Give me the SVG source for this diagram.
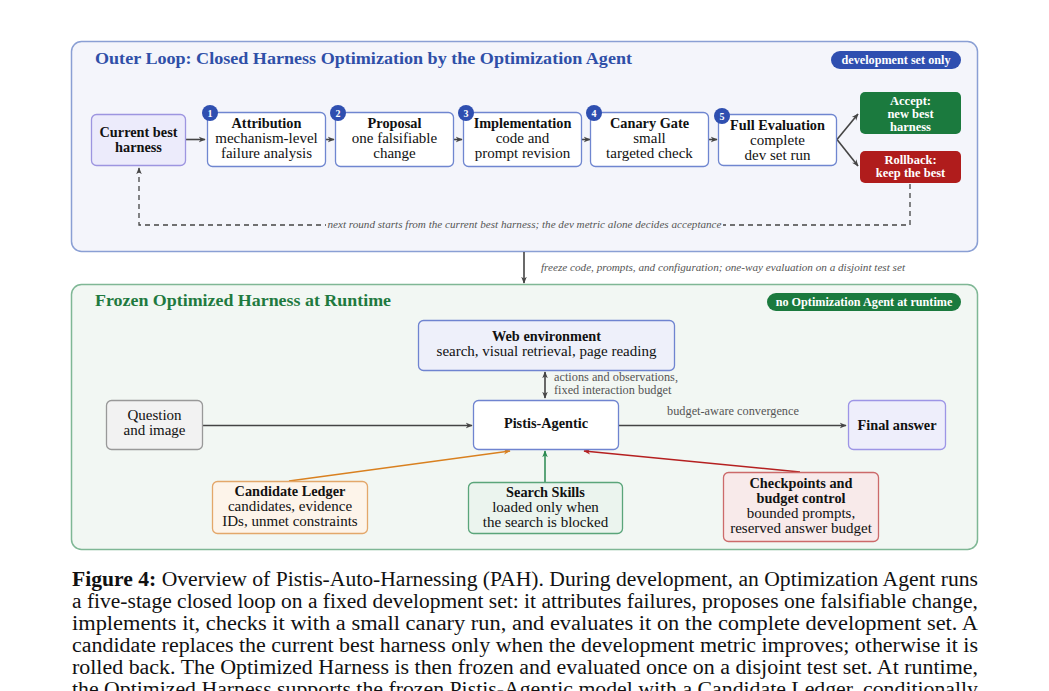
<svg xmlns="http://www.w3.org/2000/svg" width="1049" height="691" viewBox="0 0 1049 691">
<style>
text{font-family:"Liberation Serif","Times New Roman",serif;fill:#111}
.b{font-weight:bold;font-size:14.3px}
.c{text-anchor:middle}
.st{font-size:15px}
.w{fill:#fff;font-weight:bold}
.lab{font-size:12.3px;fill:#555}
.it{font-size:10px;fill:#555;font-style:italic}
.stage{fill:#fff;stroke:#6f86d0;stroke-width:1.3}
.num{fill:#2f4fb0}
.cap{font-size:20.5px}
</style>
<defs>
<marker id="ar" viewBox="0 0 10 10" refX="9" refY="5" markerWidth="7" markerHeight="7" orient="auto-start-reverse" markerUnits="userSpaceOnUse"><path d="M0,1 L10,5 L0,9 L3,5 z" fill="#444"/></marker>
<marker id="aro" viewBox="0 0 10 10" refX="9" refY="5" markerWidth="7" markerHeight="7" orient="auto" markerUnits="userSpaceOnUse"><path d="M0,1 L10,5 L0,9 L3,5 z" fill="#d9801f"/></marker>
<marker id="arg" viewBox="0 0 10 10" refX="9" refY="5" markerWidth="7" markerHeight="7" orient="auto" markerUnits="userSpaceOnUse"><path d="M0,1 L10,5 L0,9 L3,5 z" fill="#2a8a50"/></marker>
<marker id="arr" viewBox="0 0 10 10" refX="9" refY="5" markerWidth="7" markerHeight="7" orient="auto" markerUnits="userSpaceOnUse"><path d="M0,1 L10,5 L0,9 L3,5 z" fill="#b52020"/></marker>
</defs>
<rect width="1049" height="691" fill="#fff"/>

<g id="outer-loop">
<rect x="71.5" y="41.5" width="906" height="210" rx="10" fill="#f4f5fb" stroke="#8a9fd4" stroke-width="1.5"/>
<text x="95" y="64" font-weight="bold" font-size="17" style="fill:#2f4fa8" textLength="537" lengthAdjust="spacingAndGlyphs">Outer Loop: Closed Harness Optimization by the Optimization Agent</text>
<rect x="831" y="51" width="130" height="18" rx="9" fill="#2f4fb0"/>
<text x="896" y="64" class="w c" font-size="12.2">development set only</text>
</g>

<g id="frozen-runtime">
<rect x="71.5" y="284.5" width="906" height="265" rx="10" fill="#f2f7f3" stroke="#7fb795" stroke-width="1.5"/>
<text x="95" y="306" font-weight="bold" font-size="16.5" style="fill:#1f7a3f" textLength="296" lengthAdjust="spacingAndGlyphs">Frozen Optimized Harness at Runtime</text>
<rect x="767" y="293" width="194" height="18" rx="9" fill="#1b7a3e"/>
<text x="864" y="306" class="w c" font-size="12.2">no Optimization Agent at runtime</text>
</g>

<g id="connectors" fill="none" stroke="#444" stroke-width="1.6">
<line x1="186" y1="139.5" x2="205" y2="139.5" marker-end="url(#ar)"/>
<line x1="326" y1="139.5" x2="334" y2="139.5" marker-end="url(#ar)"/>
<line x1="454" y1="139.5" x2="462" y2="139.5" marker-end="url(#ar)"/>
<line x1="582" y1="139.5" x2="590" y2="139.5" marker-end="url(#ar)"/>
<line x1="709" y1="139.5" x2="717" y2="139.5" marker-end="url(#ar)"/>
<line x1="837" y1="139.5" x2="858" y2="114" marker-end="url(#ar)"/>
<line x1="837" y1="139.5" x2="858" y2="166" marker-end="url(#ar)"/>
<path d="M910,184 V225 H139 V168" stroke-dasharray="5,4" stroke-width="1.3" marker-end="url(#ar)"/>
<line x1="524" y1="252" x2="524" y2="283" marker-end="url(#ar)"/>
<line x1="545" y1="372" x2="545" y2="398" marker-start="url(#ar)" marker-end="url(#ar)"/>
<line x1="203" y1="425.5" x2="472" y2="425.5" marker-end="url(#ar)"/>
<line x1="619" y1="425.5" x2="846" y2="425.5" marker-end="url(#ar)"/>
<line x1="289" y1="481" x2="510" y2="451" stroke="#d9801f" stroke-width="1.5" marker-end="url(#aro)"/>
<line x1="545" y1="482" x2="545" y2="451" stroke="#2a8a50" stroke-width="1.5" marker-end="url(#arg)"/>
<line x1="800" y1="472" x2="584" y2="451" stroke="#b52020" stroke-width="1.5" marker-end="url(#arr)"/>
<rect x="326" y="218" width="397" height="13" fill="#f4f5fb" stroke="none"/>
<text x="524.5" y="228" class="it c" style="stroke:none" textLength="394" lengthAdjust="spacingAndGlyphs">next round starts from the current best harness; the dev metric alone decides acceptance</text>
<text x="541" y="271" class="it" style="stroke:none" textLength="364" lengthAdjust="spacingAndGlyphs">freeze code, prompts, and configuration; one-way evaluation on a disjoint test set</text>
<text x="554" y="381" class="lab" style="stroke:none">actions and observations,</text>
<text x="554" y="394" class="lab" style="stroke:none">fixed interaction budget</text>
<text x="733" y="415" class="lab c" style="stroke:none">budget-aware convergence</text>
</g>

<g id="current-best">
<rect x="91.5" y="114.5" width="94" height="51" rx="5" fill="#ecebfb" stroke="#9d95e0" stroke-width="1.3"/>
<text x="138.5" y="137" class="b c">Current best</text>
<text x="138.5" y="152" class="b c">harness</text>
</g>

<g id="stage1">
<rect x="207.5" y="112.5" width="118" height="54" rx="5" class="stage"/>
<text x="266.5" y="128" class="b c">Attribution</text>
<text x="266.5" y="143" class="c st">mechanism-level</text>
<text x="266.5" y="158" class="c st">failure analysis</text>
<circle cx="210" cy="113" r="8" class="num"/>
<text x="210" y="116.5" class="w c" font-size="10">1</text>
</g>

<g id="stage2">
<rect x="335.5" y="112.5" width="118" height="54" rx="5" class="stage"/>
<text x="394.5" y="128" class="b c">Proposal</text>
<text x="394.5" y="143" class="c st">one falsifiable</text>
<text x="394.5" y="158" class="c st">change</text>
<circle cx="338" cy="113" r="8" class="num"/>
<text x="338" y="116.5" class="w c" font-size="10">2</text>
</g>

<g id="stage3">
<rect x="463.5" y="112.5" width="118" height="54" rx="5" class="stage"/>
<text x="522.5" y="128" class="b c">Implementation</text>
<text x="522.5" y="143" class="c st">code and</text>
<text x="522.5" y="158" class="c st">prompt revision</text>
<circle cx="466" cy="113" r="8" class="num"/>
<text x="466" y="116.5" class="w c" font-size="10">3</text>
</g>

<g id="stage4">
<rect x="590.5" y="112.5" width="118" height="54" rx="5" class="stage"/>
<text x="649.5" y="128" class="b c">Canary Gate</text>
<text x="649.5" y="143" class="c st">small</text>
<text x="649.5" y="158" class="c st">targeted check</text>
<circle cx="594" cy="113" r="8" class="num"/>
<text x="594" y="116.5" class="w c" font-size="10">4</text>
</g>

<g id="stage5">
<rect x="718.5" y="114.5" width="118" height="51" rx="5" class="stage"/>
<text x="777.5" y="130" class="b c">Full Evaluation</text>
<text x="777.5" y="145" class="c st">complete</text>
<text x="777.5" y="160" class="c st">dev set run</text>
<circle cx="722" cy="116" r="8" class="num"/>
<text x="722" y="119.5" class="w c" font-size="10">5</text>
</g>

<g id="accept">
<rect x="860" y="92" width="101" height="42" rx="5" fill="#1b7a3e"/>
<text x="910.5" y="104.5" class="w c" font-size="12.5">Accept:</text>
<text x="910.5" y="117.5" class="w c" font-size="12.5">new best</text>
<text x="910.5" y="130.5" class="w c" font-size="12.5">harness</text>
</g>

<g id="rollback">
<rect x="860" y="151" width="101" height="32" rx="5" fill="#b01c1c"/>
<text x="910.5" y="164" class="w c" font-size="12.5">Rollback:</text>
<text x="910.5" y="177" class="w c" font-size="12.5">keep the best</text>
</g>

<g id="web-env">
<rect x="418.5" y="320.5" width="256" height="50" rx="5" fill="#eef0fa" stroke="#6f84d0" stroke-width="1.3"/>
<text x="546.5" y="341" class="b c">Web environment</text>
<text x="546.5" y="356" class="c st">search, visual retrieval, page reading</text>
</g>

<g id="question">
<rect x="106.5" y="400.5" width="96" height="49" rx="5" fill="#f2f2f2" stroke="#999" stroke-width="1.3"/>
<text x="154.5" y="420" class="c st">Question</text>
<text x="154.5" y="435" class="c st">and image</text>
</g>

<g id="pistis-agentic">
<rect x="473.5" y="400.5" width="145" height="49" rx="5" fill="#fff" stroke="#6f84d0" stroke-width="1.3"/>
<text x="546" y="428" class="b c">Pistis-Agentic</text>
</g>

<g id="final-answer">
<rect x="848.5" y="400.5" width="97" height="49" rx="5" fill="#eeeefb" stroke="#9d95e6" stroke-width="1.3"/>
<text x="897" y="430" class="b c">Final answer</text>
</g>

<g id="candidate-ledger">
<rect x="212.5" y="481.5" width="155" height="52" rx="5" fill="#fdf4ea" stroke="#e3a76a" stroke-width="1.3"/>
<text x="290" y="496" class="b c">Candidate Ledger</text>
<text x="290" y="511" class="c st">candidates, evidence</text>
<text x="290" y="526" class="c st">IDs, unmet constraints</text>
</g>

<g id="search-skills">
<rect x="468.5" y="482.5" width="154" height="51" rx="5" fill="#ebf4ee" stroke="#5aa57a" stroke-width="1.3"/>
<text x="545.5" y="497" class="b c">Search Skills</text>
<text x="545.5" y="512" class="c st">loaded only when</text>
<text x="545.5" y="527" class="c st">the search is blocked</text>
</g>

<g id="checkpoints">
<rect x="723.5" y="472.5" width="155" height="69" rx="5" fill="#f8eaea" stroke="#cc6a6a" stroke-width="1.3"/>
<text x="801" y="488" class="b c">Checkpoints and</text>
<text x="801" y="503" class="b c">budget control</text>
<text x="801" y="518" class="c st">bounded prompts,</text>
<text x="801" y="533" class="c st">reserved answer budget</text>
</g>

<g id="caption">
<text x="72" y="586" class="cap" textLength="906" lengthAdjust="spacingAndGlyphs"><tspan font-weight="bold">Figure 4:</tspan> Overview of Pistis-Auto-Harnessing (PAH). During development, an Optimization Agent runs</text>
<text x="72" y="608" class="cap" textLength="906" lengthAdjust="spacingAndGlyphs">a five-stage closed loop on a fixed development set: it attributes failures, proposes one falsifiable change,</text>
<text x="72" y="630" class="cap" textLength="906" lengthAdjust="spacingAndGlyphs">implements it, checks it with a small canary run, and evaluates it on the complete development set. A</text>
<text x="72" y="652" class="cap" textLength="906" lengthAdjust="spacingAndGlyphs">candidate replaces the current best harness only when the development metric improves; otherwise it is</text>
<text x="72" y="674" class="cap" textLength="906" lengthAdjust="spacingAndGlyphs">rolled back. The Optimized Harness is then frozen and evaluated once on a disjoint test set. At runtime,</text>
<text x="72" y="696" class="cap" textLength="906" lengthAdjust="spacingAndGlyphs">the Optimized Harness supports the frozen Pistis-Agentic model with a Candidate Ledger, conditionally</text>
</g>
</svg>
